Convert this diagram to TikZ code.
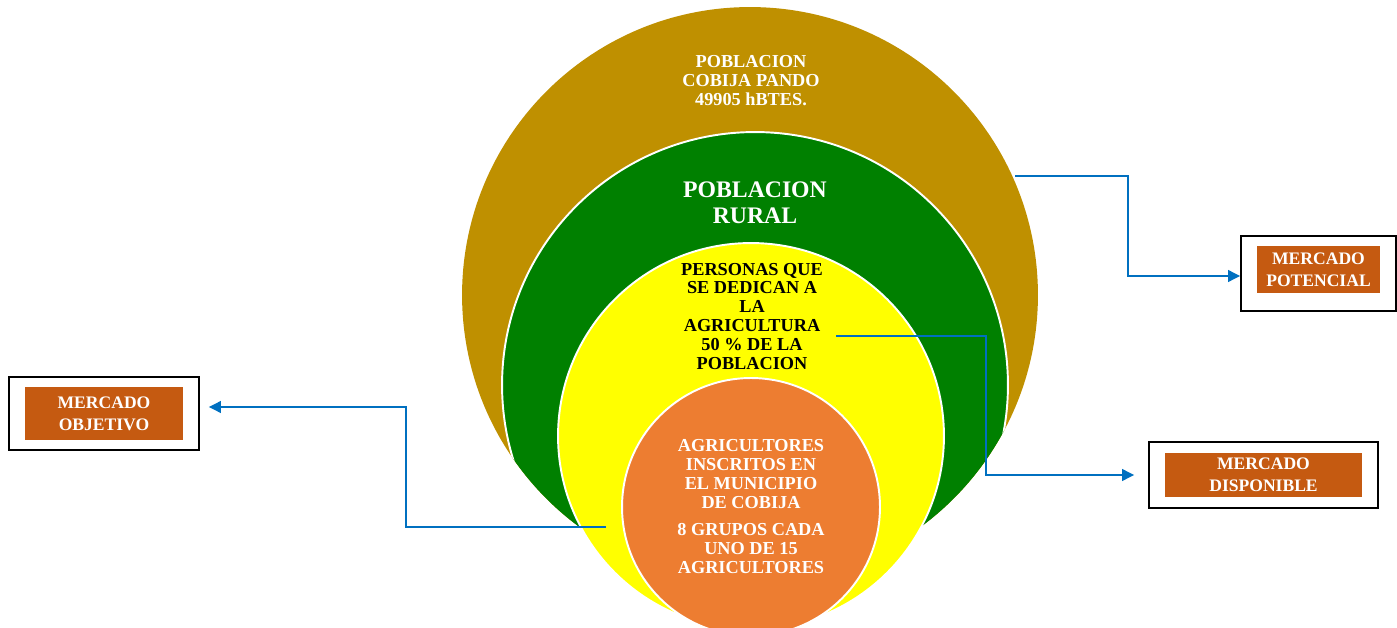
\documentclass[tikz,border=0pt]{standalone}
\usepackage{fontspec}
\setmainfont{Liberation Serif}
\usetikzlibrary{arrows.meta,positioning,calc}
\definecolor{popGold}{RGB}{191,144,0}
\definecolor{ruralGreen}{RGB}{0,128,0}
\definecolor{agriYellow}{RGB}{255,255,0}
\definecolor{inscOrange}{RGB}{237,125,49}
\definecolor{labelRust}{RGB}{197,90,17}
\definecolor{linkBlue}{RGB}{0,112,192}

\begin{document}
\begin{tikzpicture}[x=0.02cm,y=-0.02cm,
  ringtext/.style={align=center,inner sep=0pt,font=\bfseries\fontsize{10.4}{10.8}\selectfont},
  mbox/.style={draw=black,line width=0.8pt,inner sep=0pt},
  mlabel/.style={fill=labelRust,text=white,align=center,inner sep=0pt,font=\bfseries\fontsize{10}{12.5}\selectfont},
  link/.style={draw=linkBlue,line width=1.6pt,-{Triangle[length=7pt,width=6.5pt]}}]
  \clip (0,0) rectangle (1397,628);
  % nested rings
  \fill[popGold] (750,295) circle (5.76cm);
  \begin{scope}
    \clip (750,295) circle (5.76cm);
    \fill[ruralGreen] (755,385) circle (5.06cm);
    \draw[white,line width=1.1pt] (755,385) circle (5.06cm);
  \end{scope}
  \filldraw[fill=agriYellow,draw=white,line width=1.1pt] (751,436) circle (3.86cm);
  \filldraw[fill=inscOrange,draw=white,line width=1.1pt] (751,507) circle (2.58cm);
  % ring texts
  \node[ringtext,text=white] (popTxt) at (751,81) {POBLACION\\COBIJA PANDO\\49905 hBTES.};
  \node[ringtext,text=white,font=\bfseries\fontsize{13.5}{14.7}\selectfont] (ruralTxt) at (755,203) {POBLACION\\RURAL};
  \node[ringtext,text=black] (agriTxt) at (752,316.5) {PERSONAS QUE\\SE DEDICAN A\\LA\\AGRICULTURA\\50 \% DE LA\\POBLACION};
  \node[ringtext,text=white] (inscTxt) at (751,506.5) {AGRICULTORES\\INSCRITOS EN\\EL MUNICIPIO\\DE COBIJA\\[5pt]8 GRUPOS CADA\\UNO DE 15\\AGRICULTORES};
  % market boxes
  \node[mbox,minimum width=3.1cm,minimum height=1.5cm] (potBox) at (1318.5,273.5) {};
  \node[mlabel,minimum width=2.46cm,minimum height=0.94cm] (potLabel) at (1318.5,269.5) {MERCADO\\POTENCIAL};
  \node[mbox,minimum width=4.58cm,minimum height=1.32cm] (dispBox) at (1263.5,475) {};
  \node[mlabel,minimum width=3.94cm,minimum height=0.88cm] (dispLabel) at (1263.5,475) {MERCADO\\DISPONIBLE};
  \node[mbox,minimum width=3.8cm,minimum height=1.46cm] (objBox) at (104,413.5) {};
  \node[mlabel,minimum width=3.16cm,minimum height=1.06cm] (objLabel) at (104,413.5) {MERCADO\\OBJETIVO};
  % connectors
  \coordinate (popEdge) at (1015,176);
  \coordinate (agriEdge) at (836,336);
  \coordinate (inscEdge) at (606,527);
  \draw[link] (popEdge) -- ++(113,0) |- ([yshift=-0.05cm]potBox.west);
  \draw[link,shorten >=0.28cm] (agriEdge) -- ++(150,0) |- (dispBox.west);
  \draw[link,shorten >=0.18cm] (inscEdge) -- ++(-200,0) |- ([yshift=0.13cm]objBox.east);
\end{tikzpicture}
\end{document}
